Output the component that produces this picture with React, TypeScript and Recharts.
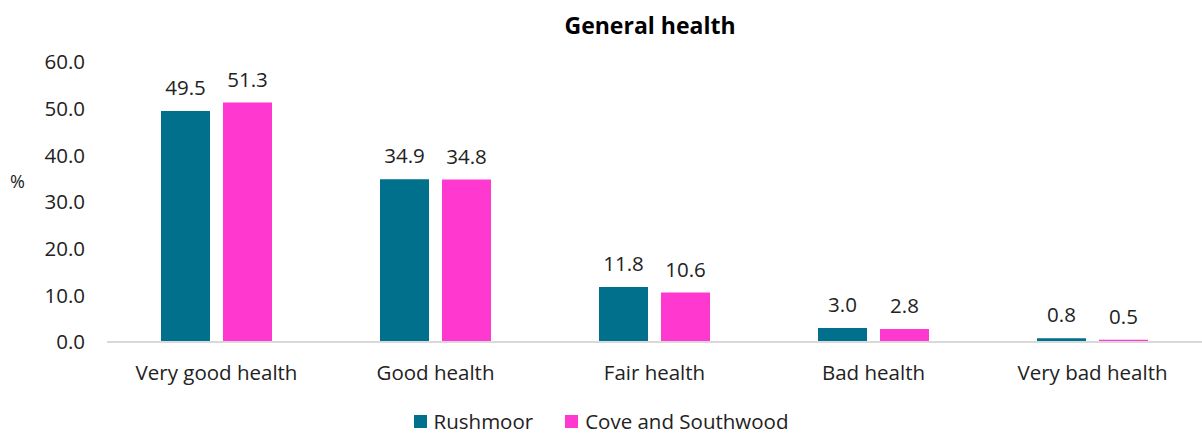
import React from "react"
import { BarChart, Bar, XAxis, YAxis, Legend, LabelList } from "recharts"

const categories = ["Very good health", "Good health", "Fair health", "Bad health", "Very bad health"]
const rushmoor = [49.5, 34.9, 11.8, 3.0, 0.8]
const coveSouthwood = [51.3, 34.8, 10.6, 2.8, 0.5]
const yTicks = [0, 10, 20, 30, 40, 50, 60]
const seriesNames = ["Rushmoor", "Cove and Southwood"]
const seriesColors = ["#00708C", "#FF38CF"]

const data = categories.map((name, i) => ({
  name,
  rushmoor: rushmoor[i],
  cove: coveSouthwood[i],
}))

const FONT = "'Open Sans', sans-serif"
const FS = 20.5

const LegendContent = () => (
  <div style={{ display: "flex", justifyContent: "center", gap: 32, fontSize: FS, color: "#222", fontFamily: FONT }}>
    {seriesNames.map((n, i) => (
      <div key={n} style={{ display: "flex", alignItems: "center", gap: 7 }}>
        <span style={{ width: 13, height: 13, background: seriesColors[i], display: "inline-block" }} />
        <span>{n}</span>
      </div>
    ))}
  </div>
)

export default function App() {
  return (
    <div style={{ position: "absolute", left: 0, top: 0, width: 1202, height: 433, background: "#fff", fontFamily: FONT }}>
      <div
        style={{
          position: "absolute",
          top: 9,
          left: 0,
          width: 1300,
          textAlign: "center",
          fontSize: 23,
          fontWeight: 700,
          color: "#000",
        }}
      >
        General health
      </div>
      <BarChart
        width={1202}
        height={433}
        data={data}
        margin={{ top: 62, right: 0, left: 0, bottom: 0 }}
        barCategoryGap="24.5%"
        barGap={13}
      >
        <XAxis
          dataKey="name"
          axisLine={{ stroke: "#d9d9d9", strokeWidth: 2 }}
          tickLine={false}
          height={45}
          tick={{ fontSize: FS, fill: "#222", fontFamily: FONT }}
          dy={15}
        />
        <YAxis
          domain={[0, 60]}
          ticks={yTicks}
          width={107}
          axisLine={false}
          tickLine={false}
          tickFormatter={(v: number) => v.toFixed(1)}
          tick={{ fontSize: FS, fill: "#222", fontFamily: FONT }}
          dx={-14}
          label={{ value: "%", position: "insideLeft", offset: 10, dy: -20, style: { fontSize: 18, fill: "#222", fontFamily: FONT } }}
        />
        <Legend height={46} content={<LegendContent />} wrapperStyle={{ top: 407 }} />
        <Bar dataKey="rushmoor" name={seriesNames[0]} fill={seriesColors[0]} barSize={49} isAnimationActive={false}>
          <LabelList dataKey="rushmoor" position="top" offset={16} formatter={(v: any) => Number(v).toFixed(1)} style={{ fontSize: FS, fill: "#222", fontFamily: FONT }} />
        </Bar>
        <Bar dataKey="cove" name={seriesNames[1]} fill={seriesColors[1]} barSize={49} isAnimationActive={false}>
          <LabelList dataKey="cove" position="top" offset={16} formatter={(v: any) => Number(v).toFixed(1)} style={{ fontSize: FS, fill: "#222", fontFamily: FONT }} />
        </Bar>
      </BarChart>
    </div>
  )
}
